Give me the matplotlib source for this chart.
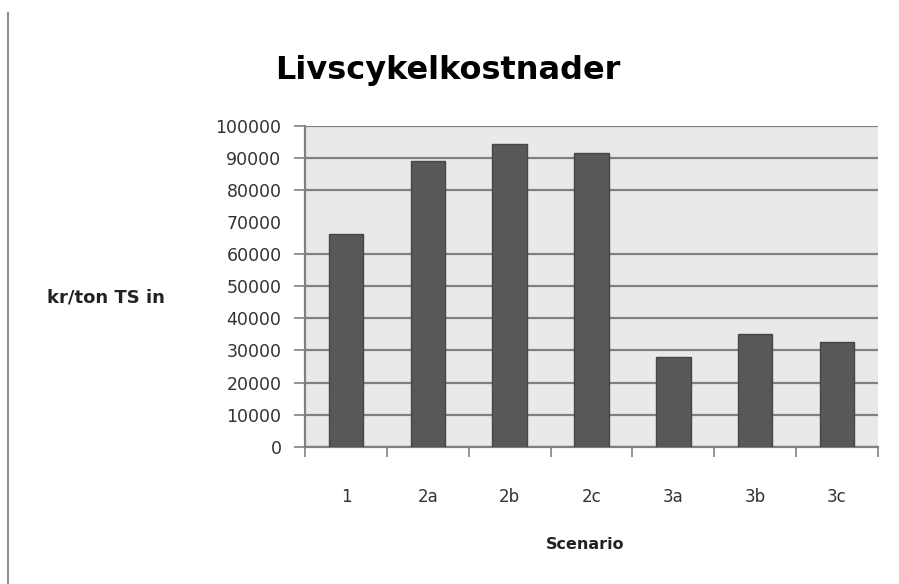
import matplotlib.pyplot as plt
from matplotlib.lines import Line2D

scenarios = ['1', '2a', '2b', '2c', '3a', '3b', '3c']
costs = [66300, 89200, 94300, 91700, 28000, 35100, 32500]
y_ticks = [0, 10000, 20000, 30000, 40000, 50000, 60000, 80000, 90000, 100000]
y_tick_no_line = [70000]  # label only, no gridline/tick in the original

fig = plt.figure(figsize=(8.99, 5.84), dpi=100)
ax = fig.add_axes([0.3393, 0.2351, 0.6373, 0.5491])
ax.set_facecolor('#e9e9e9')

x = list(range(len(scenarios)))
ax.bar(x, costs, width=0.42, color='#585858', edgecolor='#464646', linewidth=1, zorder=3)

ax.set_xlim(-0.5, len(scenarios) - 0.5)
ax.set_ylim(0, 100000)

ax.set_yticks(y_ticks)
ax.set_yticklabels([str(v) for v in y_ticks], fontsize=12.5, color='#333333')
ax.set_yticks(y_tick_no_line, minor=True)
ax.set_yticklabels([str(v) for v in y_tick_no_line], minor=True, fontsize=12.5, color='#333333')
ax.tick_params(axis='y', which='major', direction='out', length=8, width=1.2, color='#808080', pad=9)
ax.tick_params(axis='y', which='minor', length=0, pad=17)
ax.yaxis.grid(True, which='major', color='#808080', linewidth=1.6, zorder=1)
ax.set_axisbelow(True)

ax.set_xticks(x)
ax.set_xticklabels(scenarios, fontsize=12, color='#333333')
ax.tick_params(axis='x', which='major', length=0, pad=30)
ax.set_xticks([i - 0.5 for i in range(len(scenarios) + 1)], minor=True)
ax.tick_params(axis='x', which='minor', direction='out', length=7, width=1.2, color='#808080')

for side in ['top', 'right']:
    ax.spines[side].set_visible(False)
for side in ['left', 'bottom']:
    ax.spines[side].set_color('#808080')
    ax.spines[side].set_linewidth(1.6)

fig.text(0.498, 0.88, 'Livscykelkostnader', ha='center', va='center',
         fontsize=23, fontweight='bold', color='black')
fig.text(0.052, 0.49, 'kr/ton TS in', ha='left', va='center',
         fontsize=13, fontweight='bold', color='#222222')
fig.text(0.651, 0.067, 'Scenario', ha='center', va='center',
         fontsize=11.5, fontweight='bold', color='#222222')

# left border line of the frame
fig.add_artist(Line2D([0.009, 0.009], [0.0, 0.978], color='#909090', linewidth=1.5))

fig.savefig('out.png', dpi=100)
